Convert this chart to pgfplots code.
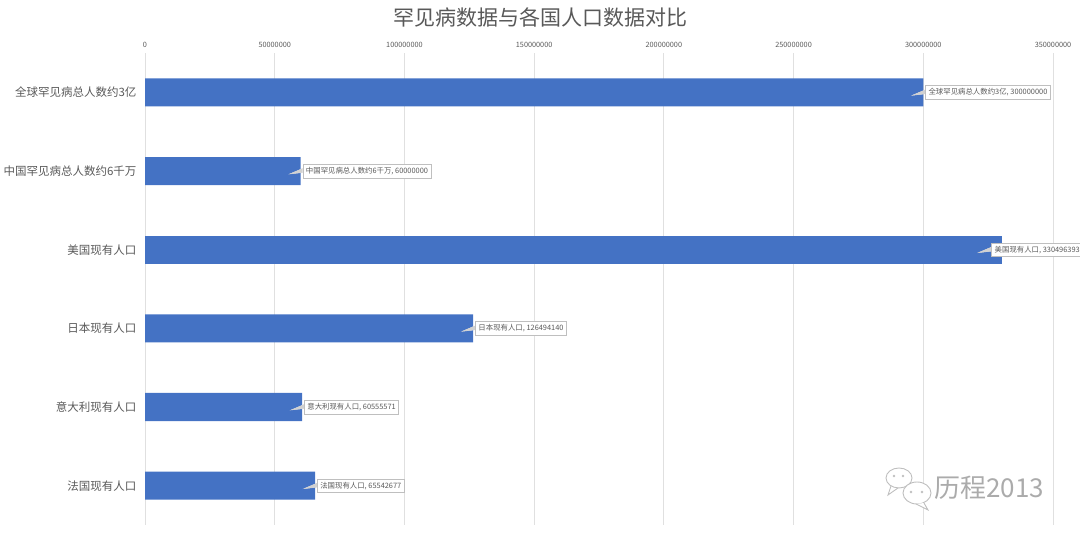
\documentclass[border=0pt]{standalone}
\usepackage{fontspec}
\setmainfont{Noto Sans CJK SC}
\usepackage{pgfplots}
\usepackage{pgfplotstable}
\pgfplotsset{compat=1.18}
\definecolor{barblue}{HTML}{4472C4}
\definecolor{txtgray}{HTML}{595959}
\pgfplotstableread[col sep=semicolon]{
idx;val;lab
0;300000000;全球罕见病总人数约3亿, 300000000
1;60000000;中国罕见病总人数约6千万, 60000000
3;126494140;日本现有人口, 126494140
4;60555571;意大利现有人口, 60555571
5;65542677;法国现有人口, 65542677
}\datatable
\pgfplotstableread[col sep=semicolon]{
idx;val;lab
2;330496393;美国现有人口, 330496393
}\ustable
\begin{document}
\begin{tikzpicture}[x=1pt,y=1pt]
\useasboundingbox (0,0) rectangle (1080,534);
\node[text=txtgray, font=\fontsize{21}{24}\selectfont] at (540,517) {罕见病数据与各国人口数据对比};
\begin{axis}[
  at={(145pt,9pt)}, anchor=south west,
  scale only axis, width=908pt, height=472pt,
  xbar, bar width=28pt, bar shift=0pt,
  xmin=0, xmax=350000000,
  ymin=-0.5, ymax=5.5, y dir=reverse,
  ytick={0,1,2,3,4,5},
  yticklabels={全球罕见病总人数约3亿,中国罕见病总人数约6千万,美国现有人口,日本现有人口,意大利现有人口,法国现有人口},
  xtick={0,50000000,100000000,150000000,200000000,250000000,300000000,350000000},
  scaled x ticks=false,
  xticklabel pos=right,
  xticklabel style={font=\fontsize{7.3}{8}\selectfont, text=txtgray, yshift=2pt},
  yticklabel style={font=\fontsize{11.5}{13}\selectfont, text=txtgray, xshift=-5pt},
  /pgf/number format/fixed, /pgf/number format/precision=0,
  /pgf/number format/1000 sep={}, /pgf/number format/assume math mode=true,
  axis line style={draw=none}, major tick length=0pt,
  xmajorgrids, grid style={black!12, line width=0.8pt},
  clip=false,
  point meta=explicit symbolic,
  nodes near coords,
  every node near coord/.style={anchor=west, xshift=2pt, draw=black!25, fill=white,
    text=txtgray, font=\fontsize{7.4}{9}\selectfont, inner sep=3pt, line width=0.6pt,
    append after command={\pgfextra{
      \fill[white] ([yshift=2.5pt]\tikzlastnode.west) -- ++(-13pt,-5.5pt) -- ([yshift=-1.5pt]\tikzlastnode.west) -- cycle;
      \draw[black!18, line width=0.4pt] ([yshift=2.5pt]\tikzlastnode.west) -- ++(-13pt,-5.5pt) -- ([yshift=-1.5pt]\tikzlastnode.west);
    }}},
]
\addplot[fill=barblue, draw=none] table[x=val, y=idx, meta=lab] {\datatable};
\addplot[fill=barblue, draw=none,
  nodes near coords style={xshift=-13pt}] table[x=val, y=idx, meta=lab] {\ustable};
\end{axis}
% watermark
\begin{scope}[draw=black!25, line width=0.9pt]
\draw (899,56) ellipse (13 and 10);
\draw[fill=white] (917,41) ellipse (14 and 11);
\draw (891,48) -- (888,39) -- (898,46);
\draw[fill=white] (924,31) -- (928,24) -- (916,30);
\fill[black!25] (894,58) circle (1.3) (903,58) circle (1.3) (911,42) circle (1.3) (922,42) circle (1.3);
\end{scope}
\node[text=black!33, font=\fontsize{26}{28}\selectfont, anchor=west, inner sep=0pt] at (934,46) {历程2013};
\end{tikzpicture}
\end{document}
